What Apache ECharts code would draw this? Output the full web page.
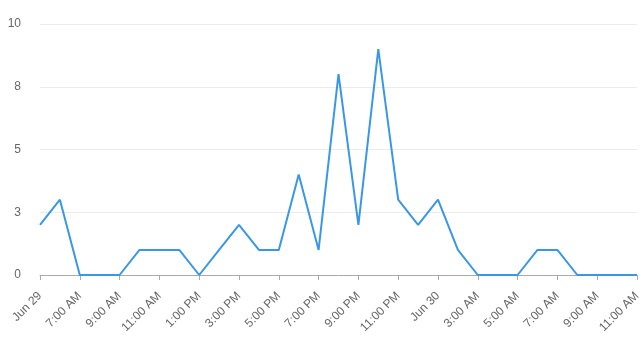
<!DOCTYPE html>
<html><head><meta charset="utf-8">
<script src="https://cdn.jsdelivr.net/npm/echarts@6/dist/echarts.min.js"></script>
<style>html,body{margin:0;padding:0;background:#fff}#c{width:641px;height:338px}</style>
</head><body><div id="c"></div>
<script>
const categories = ["Jun 29","6:00 AM","7:00 AM","8:00 AM","9:00 AM","10:00 AM","11:00 AM","12:00 PM","1:00 PM","2:00 PM","3:00 PM","4:00 PM","5:00 PM","6:00 PM","7:00 PM","8:00 PM","9:00 PM","10:00 PM","11:00 PM","12:00 AM","Jun 30","2:00 AM","3:00 AM","4:00 AM","5:00 AM","6:00 AM","7:00 AM","8:00 AM","9:00 AM","10:00 AM","11:00 AM"];
const values = [2,3,0,0,0,1,1,1,0,1,2,1,1,4,1,8,2,9,3,2,3,1,0,0,0,1,1,0,0,0,0];
const yTicks = [0,2.5,5,7.5,10];

const chart = echarts.init(document.getElementById('c'));
chart.setOption({
  animation:false,
  grid:{left:40,right:4,top:24,bottom:63,outerBoundsMode:'none',containLabel:false},
  xAxis:{
    type:'category', data:categories, boundaryGap:false,
    axisLine:{lineStyle:{color:'#aaa'}},
    axisTick:{interval:1,length:5,lineStyle:{color:'#aaa'}},
    axisLabel:{interval:1,rotate:45,color:'#666',fontSize:12,fontFamily:'Arial, Liberation Sans, sans-serif',margin:19}
  },
  yAxis:{
    type:'value', min:yTicks[0], max:yTicks[yTicks.length-1], interval:2.5,
    axisLine:{show:false}, axisTick:{show:false},
    splitLine:{lineStyle:{color:'#ebebeb'}},
    axisLabel:{color:'#666',fontSize:12,fontFamily:'Arial, Liberation Sans, sans-serif',margin:19,formatter:v=>String(Math.round(v))}
  },
  series:[{type:'line',data:values,symbol:'none',lineStyle:{color:'#3a97e6',width:2},itemStyle:{color:'#3a97e6'}}]
});
</script></body></html>
